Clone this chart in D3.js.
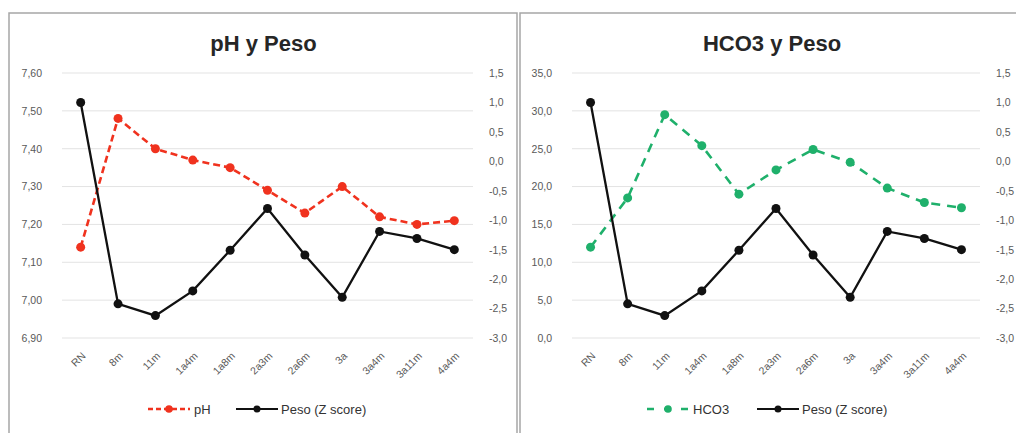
<!DOCTYPE html>
<html>
<head>
<meta charset="utf-8">
<script src="https://cdn.jsdelivr.net/npm/d3@7"></script>
<style>
  body { margin: 0; background: #fff; }
  svg { display: block; font-family: "Liberation Sans", Arial, sans-serif; }
  .tick text { fill: #595959; }
</style>
</head>
<body>
<div id="chart"></div>
<script>
// data
var categories = ['RN', '8m', '11m', '1a4m', '1a8m', '2a3m', '2a6m', '3a', '3a4m', '3a11m', '4a4m'];
var phValues = [7.14, 7.48, 7.40, 7.37, 7.35, 7.29, 7.23, 7.30, 7.22, 7.20, 7.21];
var hco3Values = [12.0, 18.5, 29.5, 25.4, 19.0, 22.2, 24.9, 23.2, 19.8, 17.9, 17.2];
var pesoValues = [1.0, -2.42, -2.62, -2.20, -1.51, -0.80, -1.59, -2.31, -1.19, -1.31, -1.50];
var phTicks = [6.9, 7.0, 7.1, 7.2, 7.3, 7.4, 7.5, 7.6];
var hco3Ticks = [0, 5, 10, 15, 20, 25, 30, 35];
var pesoTicks = [-3.0, -2.5, -2.0, -1.5, -1.0, -0.5, 0.0, 0.5, 1.0, 1.5];

var svg = d3.select('#chart').append('svg')
	.attr('width', 1016)
	.attr('height', 433);

var plotTop = 73, plotBottom = 338;

function comma(fmt) {
	var f = d3.format(fmt);
	return function(d) { return f(d).replace('.', ',').replace('−', '-'); };
}

function drawPanel(p) {
	var g = svg.append('g');

	// panel frame
	g.append('rect')
		.attr('x', p.box[0]).attr('y', 13)
		.attr('width', p.box[1] - p.box[0]).attr('height', 440)
		.attr('fill', 'none').attr('stroke', '#a6a6a6').attr('stroke-width', 1.5);

	g.append('text')
		.attr('x', (p.x0 + p.x1) / 2 - 4).attr('y', 51)
		.attr('text-anchor', 'middle')
		.attr('font-size', 22).attr('font-weight', 'bold').attr('fill', '#262626')
		.text(p.title);

	var x = d3.scaleBand().domain(categories).range([p.x0, p.x1]);
	var cx = function(d, i) { return x(categories[i]) + x.bandwidth() / 2; };
	var yL = d3.scaleLinear().domain(p.leftDomain).range([plotBottom, plotTop]);
	var yR = d3.scaleLinear().domain([-3, 1.5]).range([plotBottom, plotTop]);

	// gridlines
	g.append('g').selectAll('line')
		.data(p.leftTicks).enter().append('line')
		.attr('x1', p.x0).attr('x2', p.x1)
		.attr('y1', function(d) { return yL(d); })
		.attr('y2', function(d) { return yL(d); })
		.attr('stroke', '#e3e3e3').attr('stroke-width', 1);

	var left = g.append('g')
		.attr('transform', 'translate(' + (p.x0 - 17) + ',0)')
		.call(d3.axisLeft(yL).tickValues(p.leftTicks).tickSize(0).tickFormat(comma(p.leftFmt)));
	left.select('.domain').remove();
	left.selectAll('text').attr('font-size', 10.5).attr('font-family', 'Liberation Sans');

	var right = g.append('g')
		.attr('transform', 'translate(' + (p.x1 + 13) + ',0)')
		.call(d3.axisRight(yR).tickValues(pesoTicks).tickSize(0).tickFormat(comma('.1f')));
	right.select('.domain').remove();
	right.selectAll('text').attr('font-size', 10.5).attr('font-family', 'Liberation Sans');

	// category labels
	g.append('g').selectAll('text')
		.data(categories).enter().append('text')
		.attr('transform', function(d) {
			return 'translate(' + (x(d) + x.bandwidth() / 2 + 3) + ',354) rotate(-45)';
		})
		.attr('text-anchor', 'end').attr('dy', '0.35em')
		.attr('font-size', 10.5).attr('fill', '#595959')
		.text(function(d) { return d; });

	var lineL = d3.line().x(cx).y(function(d) { return yL(d); });
	var lineR = d3.line().x(cx).y(function(d) { return yR(d); });

	g.append('path').datum(p.values)
		.attr('d', lineL).attr('fill', 'none')
		.attr('stroke', p.color).attr('stroke-width', 2.6)
		.attr('stroke-dasharray', p.dash);
	g.append('g').selectAll('circle')
		.data(p.values).enter().append('circle')
		.attr('cx', cx).attr('cy', function(d) { return yL(d); })
		.attr('r', 4.5).attr('fill', p.color);

	g.append('path').datum(pesoValues)
		.attr('d', lineR).attr('fill', 'none')
		.attr('stroke', '#111').attr('stroke-width', 2.3);
	g.append('g').selectAll('circle')
		.data(pesoValues).enter().append('circle')
		.attr('cx', cx).attr('cy', function(d) { return yR(d); })
		.attr('r', 4.5).attr('fill', '#111');

	// legend
	var ly = 409;
	var lg = g.append('g');
	lg.append('line')
		.attr('x1', p.leg[0]).attr('x2', p.leg[0] + 42)
		.attr('y1', ly).attr('y2', ly)
		.attr('stroke', p.color).attr('stroke-width', 2.5).attr('stroke-dasharray', p.legDash);
	lg.append('circle').attr('cx', p.leg[0] + 21).attr('cy', ly).attr('r', 3.8).attr('fill', p.color);
	lg.append('text').attr('x', p.leg[0] + 46).attr('y', ly + 4.5)
		.attr('font-size', 13).attr('fill', '#333').text(p.series);

	lg.append('line')
		.attr('x1', p.leg[1]).attr('x2', p.leg[1] + 42)
		.attr('y1', ly).attr('y2', ly)
		.attr('stroke', '#111').attr('stroke-width', 2.2);
	lg.append('circle').attr('cx', p.leg[1] + 21).attr('cy', ly).attr('r', 3.5).attr('fill', '#111');
	lg.append('text').attr('x', p.leg[1] + 45).attr('y', ly + 4.5)
		.attr('font-size', 13).attr('fill', '#333').text('Peso (Z score)');
}

drawPanel({
	box: [9, 517], x0: 62, x1: 473,
	title: 'pH y Peso', series: 'pH',
	values: phValues, leftDomain: [6.9, 7.6], leftTicks: phTicks, leftFmt: '.2f',
	color: '#f0321e', dash: '7,4', legDash: '5,3', leg: [148, 236]
});

drawPanel({
	box: [520, 1030], x0: 572, x1: 980,
	title: 'HCO3 y Peso', series: 'HCO3',
	values: hco3Values, leftDomain: [0, 35], leftTicks: hco3Ticks, leftFmt: '.1f',
	color: '#1fb06b', dash: '9,7', legDash: '7,10', leg: [647, 757]
});
</script>
</body>
</html>
